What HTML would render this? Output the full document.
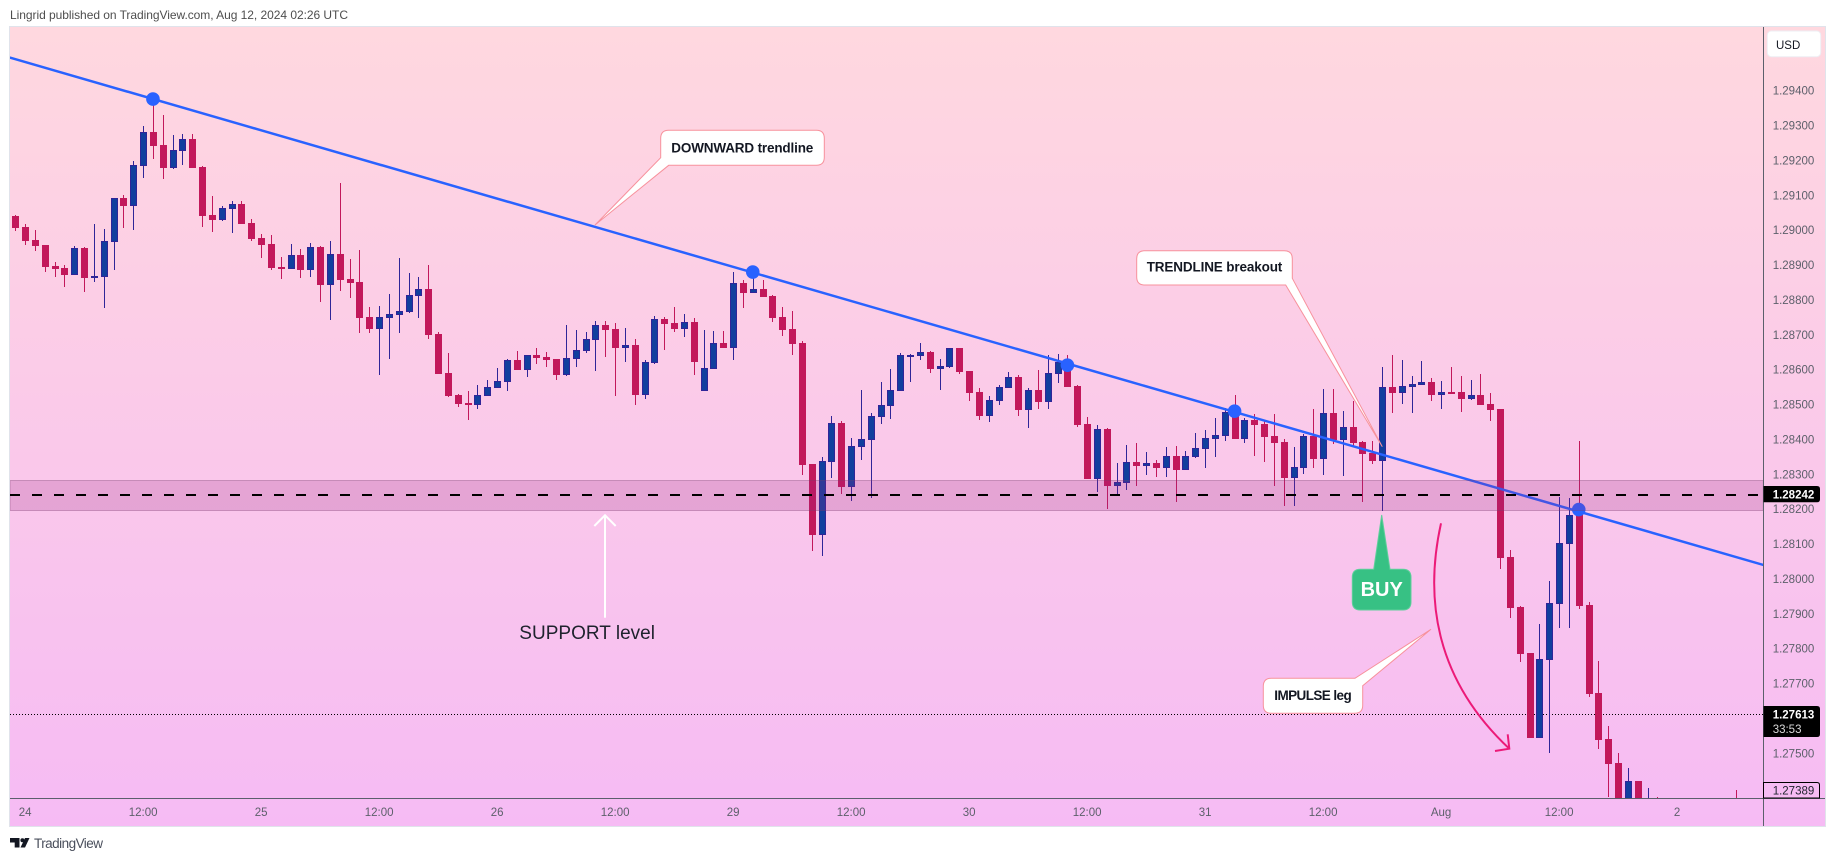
<!DOCTYPE html>
<html lang="en">
<head>
<meta charset="utf-8">
<title>Lingrid chart on TradingView</title>
<style>
html,body{margin:0;padding:0;background:#fff;width:1835px;height:861px;overflow:hidden}
svg{display:block;font-family:"Liberation Sans",sans-serif}
</style>
</head>
<body>
<svg id="chart" xmlns="http://www.w3.org/2000/svg" width="1835" height="861" viewBox="0 0 1835 861">
  <defs>
    <linearGradient id="bg" gradientUnits="userSpaceOnUse" x1="0" y1="27" x2="0" y2="826">
      <stop offset="0" stop-color="#ffd8df"/>
      <stop offset="1" stop-color="#f6bbf4"/>
    </linearGradient>
    <clipPath id="pane"><rect x="10" y="27" width="1753.3" height="771.3"/></clipPath>
  </defs>

  <text x="10" y="19" font-size="12" fill="#4e4e4e" textLength="338">Lingrid published on TradingView.com, Aug 12, 2024 02:26 UTC</text>

  <rect x="9.5" y="26.5" width="1816" height="800" fill="url(#bg)" stroke="#e0e3eb" stroke-width="1"/>

  <g id="plot" clip-path="url(#pane)"></g>

  <g id="notes">
    <g>
      <path d="M668.7 130.3H816.3Q824.3 130.3 824.3 138.3V157.3Q824.3 165.3 816.3 165.3H668.7L595 225L660.7 157.7V138.3Q660.7 130.3 668.7 130.3Z" fill="#fff" stroke="#f7919c" stroke-width="1"/>
      <text x="671.3" y="152.5" font-size="13.5" font-weight="700" fill="#131722" textLength="142">DOWNWARD trendline</text>
    </g>
    <g>
      <path d="M1144.7 250.7H1284.3Q1292.3 250.7 1292.3 258.7V278.3L1382.3 446.7L1285.7 285H1144.7Q1136.7 285 1136.7 277V258.7Q1136.7 250.7 1144.7 250.7Z" fill="#fff" stroke="#f7919c" stroke-width="1"/>
      <text x="1146.7" y="271.5" font-size="13.5" font-weight="700" fill="#131722" textLength="135.6">TRENDLINE breakout</text>
    </g>
    <g>
      <path d="M1271.3 678.3H1355L1431 629.3L1362.7 685.7V705.3Q1362.7 713.3 1354.7 713.3H1271.3Q1263.3 713.3 1263.3 705.3V686.3Q1263.3 678.3 1271.3 678.3Z" fill="#fff" stroke="#f7919c" stroke-width="1"/>
      <text x="1274.3" y="700" font-size="13.5" font-weight="700" fill="#131722" textLength="77.4">IMPULSE leg</text>
    </g>
    <g>
      <path d="M1360.3 569.3H1373.7L1381.7 515L1390 569.3H1403Q1411 569.3 1411 577.3V602Q1411 610 1403 610H1360.3Q1352.3 610 1352.3 602V577.3Q1352.3 569.3 1360.3 569.3Z" fill="#37c184" stroke="#5fcf9c" stroke-width="1"/>
      <text x="1381.7" y="596" font-size="20" font-weight="700" fill="#fff" text-anchor="middle">BUY</text>
    </g>
    <g fill="none" stroke="#fff" stroke-width="2">
      <path d="M605 617.7V516"/>
      <path d="M594.3 526L605 515.3L615.7 526"/>
    </g>
    <text x="519.3" y="639" font-size="19" fill="#1e222d" textLength="135.7">SUPPORT level</text>
    <g fill="none" stroke="#ec1a78" stroke-width="2">
      <path d="M1441 523.3C1424 600 1436 680 1509.3 748.7"/>
      <path d="M1495 751L1509.3 748.7L1507.7 734.3"/>
    </g>
  </g>

  <g id="axes">
    <rect x="1763" y="27" width="1" height="799" fill="#5b5f6b"/>
    <rect x="10" y="798" width="1815" height="1" fill="#5b5f6b"/>
    <g id="yTicks" font-size="11.5" fill="#5d606b"></g>
    <g id="xTicks" font-size="11.5" fill="#5d606b"></g>
  </g>

  <g>
    <rect x="1767.3" y="31" width="53.4" height="25.7" rx="4" fill="#fff" stroke="#eeeef3" stroke-width="1"/>
    <text x="1776" y="49" font-size="11.5" fill="#131722">USD</text>
  </g>

  <g>
    <path d="M1763.5 486H1817Q1820 486 1820 489V499.3Q1820 502.3 1817 502.3H1763.5Z" fill="#000"/>
    <text x="1772.7" y="498.3" font-size="11.5" font-weight="700" fill="#fff">1.28242</text>
  </g>
  <g>
    <path d="M1763.5 706H1817Q1820 706 1820 709V734Q1820 737 1817 737H1763.5Z" fill="#000"/>
    <text x="1772.7" y="718.3" font-size="11.5" font-weight="700" fill="#fff">1.27613</text>
    <text x="1772.7" y="733" font-size="11.5" fill="#d8d8d8">33:53</text>
  </g>
  <g>
    <path d="M1763.5 782.5H1817Q1819.5 782.5 1819.5 785V798H1763.5Z" fill="none" stroke="#000" stroke-width="1"/>
    <text x="1772.7" y="794.5" font-size="11.5" fill="#1e222d">1.27389</text>
  </g>

  <g>
    <path d="M10 838H19.5V847.5H14.7V842.5H10Z" fill="#131722"/>
    <circle cx="22.4" cy="840.2" r="2" fill="#131722"/>
    <path d="M25 838H29.5L25 847.5H20.5Z" fill="#131722"/>
    <text x="34" y="847.8" font-size="13.5" fill="#4a4f5c" textLength="69">TradingView</text>
  </g>
</svg>

<script>
// ---- chart data (prices) ----
const opens = [
1.29040,1.29009,1.28972,1.28957,1.28898,1.28891,1.28871,1.28949,1.28866,1.28866,
1.28966,1.29092,1.29069,1.29184,1.29281,1.29244,1.29178,1.29227,1.29261,1.29181,
1.29043,1.29029,1.29061,1.29075,1.29020,1.28977,1.28960,1.28894,1.28888,1.28929,
1.28886,1.28952,1.28843,1.28931,1.28860,1.28851,1.28751,1.28716,1.28748,1.28757,
1.28765,1.28811,1.28831,1.28702,1.28590,1.28527,1.28504,1.28499,1.28524,1.28547,
1.28565,1.28628,1.28599,1.28642,1.28636,1.28631,1.28585,1.28631,1.28653,1.28685,
1.28728,1.28717,1.28662,1.28671,1.28527,1.28619,1.28745,1.28734,1.28717,1.28737,
1.28539,1.28602,1.28676,1.28662,1.28848,1.28820,1.28831,1.28811,1.28751,1.28717,
1.28676,1.28329,1.28126,1.28335,1.28447,1.28263,1.28378,1.28398,1.28464,1.28496,
1.28539,1.28640,1.28639,1.28651,1.28602,1.28608,1.28662,1.28596,1.28536,1.28467,
1.28510,1.28547,1.28579,1.28484,1.28542,1.28507,1.28587,1.28613,1.28553,1.28444,
1.28286,1.28430,1.28266,1.28275,1.28335,1.28324,1.28332,1.28318,1.28352,1.28312,
1.28349,1.28372,1.28401,1.28410,1.28470,1.28401,1.28456,1.28444,1.28410,1.28392,
1.28289,1.28318,1.28410,1.28344,1.28476,1.28398,1.28435,1.28392,1.28361,1.28338,
1.28550,1.28533,1.28550,1.28556,1.28565,1.28527,1.28536,1.28536,1.28516,1.28527,
1.28501,1.28487,1.28063,1.27919,1.27787,1.27544,1.27767,1.27928,1.28100,1.28212,
1.27925,1.27673,1.27541,1.27472,1.27340,1.27420,1.27330,1.27355,1.27340,1.27350,
1.27335,1.27345,1.27335,1.27345,1.27340,1.27360,1.27345,1.27355,1.27345];
const highs = [
1.29043,1.29018,1.29000,1.28957,1.28909,1.28900,1.28954,1.28952,1.29018,1.29003,
1.29092,1.29101,1.29198,1.29299,1.29373,1.29330,1.29273,1.29276,1.29276,1.29184,
1.29098,1.29069,1.29084,1.29084,1.29032,1.28989,1.28986,1.28923,1.28960,1.28946,
1.28963,1.28954,1.28969,1.29135,1.28917,1.28943,1.28779,1.28782,1.28817,1.28920,
1.28877,1.28866,1.28900,1.28708,1.28648,1.28530,1.28539,1.28556,1.28570,1.28605,
1.28631,1.28653,1.28642,1.28662,1.28651,1.28631,1.28728,1.28714,1.28708,1.28740,
1.28740,1.28734,1.28719,1.28688,1.28628,1.28754,1.28751,1.28780,1.28760,1.28748,
1.28714,1.28711,1.28711,1.28880,1.28857,1.28880,1.28857,1.28814,1.28780,1.28768,
1.28682,1.28329,1.28349,1.28467,1.28453,1.28404,1.28542,1.28476,1.28564,1.28602,
1.28648,1.28644,1.28676,1.28653,1.28630,1.28662,1.28662,1.28596,1.28547,1.28524,
1.28556,1.28593,1.28585,1.28547,1.28599,1.28642,1.28645,1.28642,1.28556,1.28464,
1.28441,1.28433,1.28332,1.28384,1.28390,1.28364,1.28341,1.28378,1.28381,1.28367,
1.28418,1.28427,1.28461,1.28490,1.28527,1.28461,1.28473,1.28453,1.28473,1.28401,
1.28378,1.28415,1.28487,1.28544,1.28544,1.28481,1.28510,1.28395,1.28395,1.28608,
1.28642,1.28628,1.28582,1.28625,1.28576,1.28567,1.28608,1.28582,1.28570,1.28588,
1.28533,1.28487,1.28083,1.27922,1.27787,1.27871,1.27994,1.28235,1.28232,1.28395,
1.27934,1.27764,1.27578,1.27500,1.27458,1.27420,1.27400,1.27374,1.27360,1.27360,
1.27355,1.27355,1.27350,1.27360,1.27360,1.27394,1.27365,1.27365,1.27389];
const lows = [
1.28998,1.28958,1.28941,1.28881,1.28866,1.28838,1.28871,1.28823,1.28851,1.28778,
1.28886,1.29006,1.29000,1.29150,1.29204,1.29147,1.29175,1.29187,1.29178,1.29009,
1.28995,1.29026,1.28992,1.29018,1.28969,1.28920,1.28886,1.28860,1.28888,1.28863,
1.28866,1.28794,1.28742,1.28825,1.28805,1.28705,1.28705,1.28584,1.28630,1.28705,
1.28762,1.28748,1.28688,1.28587,1.28521,1.28493,1.28456,1.28487,1.28524,1.28547,
1.28539,1.28599,1.28579,1.28616,1.28608,1.28570,1.28582,1.28608,1.28648,1.28596,
1.28636,1.28524,1.28622,1.28499,1.28516,1.28616,1.28656,1.28708,1.28694,1.28585,
1.28539,1.28602,1.28662,1.28628,1.28777,1.28820,1.28808,1.28737,1.28696,1.28642,
1.28298,1.28080,1.28065,1.28289,1.28243,1.28223,1.28341,1.28232,1.28444,1.28458,
1.28539,1.28564,1.28628,1.28590,1.28542,1.28605,1.28587,1.28510,1.28456,1.28450,
1.28499,1.28547,1.28467,1.28433,1.28487,1.28487,1.28562,1.28550,1.28435,1.28286,
1.28249,1.28200,1.28238,1.28255,1.28266,1.28298,1.28292,1.28292,1.28220,1.28312,
1.28347,1.28318,1.28349,1.28395,1.28401,1.28390,1.28352,1.28335,1.28266,1.28209,
1.28209,1.28301,1.28318,1.28298,1.28387,1.28295,1.28381,1.28220,1.28329,1.28195,
1.28476,1.28501,1.28476,1.28556,1.28510,1.28487,1.28533,1.28479,1.28513,1.28499,
1.28453,1.28028,1.27888,1.27762,1.27544,1.27544,1.27500,1.27859,1.27859,1.27914,
1.27661,1.27512,1.27374,1.27340,1.27330,1.27330,1.27320,1.27320,1.27325,1.27330,
1.27325,1.27330,1.27325,1.27335,1.27330,1.27330,1.27335,1.27340,1.27335];
const closes = [
1.29006,1.28969,1.28954,1.28894,1.28888,1.28871,1.28949,1.28863,1.28868,1.28969,
1.29092,1.29069,1.29187,1.29281,1.29241,1.29178,1.29230,1.29261,1.29178,1.29040,
1.29029,1.29063,1.29075,1.29018,1.28975,1.28957,1.28891,1.28888,1.28929,1.28886,
1.28952,1.28843,1.28931,1.28857,1.28848,1.28748,1.28716,1.28751,1.28759,1.28768,
1.28814,1.28831,1.28699,1.28587,1.28524,1.28501,1.28499,1.28527,1.28550,1.28567,
1.28628,1.28599,1.28642,1.28633,1.28628,1.28585,1.28633,1.28656,1.28688,1.28728,
1.28714,1.28662,1.28671,1.28527,1.28622,1.28745,1.28731,1.28717,1.28737,1.28622,
1.28605,1.28676,1.28662,1.28848,1.28820,1.28831,1.28808,1.28748,1.28714,1.28674,
1.28326,1.28126,1.28338,1.28447,1.28263,1.28381,1.28401,1.28467,1.28499,1.28542,
1.28642,1.28642,1.28651,1.28602,1.28610,1.28662,1.28593,1.28533,1.28467,1.28513,
1.28550,1.28579,1.28484,1.28542,1.28507,1.28590,1.28622,1.28550,1.28441,1.28286,
1.28430,1.28266,1.28278,1.28335,1.28324,1.28332,1.28318,1.28352,1.28312,1.28352,
1.28375,1.28404,1.28413,1.28479,1.28401,1.28456,1.28441,1.28407,1.28390,1.28289,
1.28321,1.28410,1.28344,1.28476,1.28398,1.28435,1.28390,1.28358,1.28338,1.28550,
1.28533,1.28553,1.28559,1.28565,1.28527,1.28536,1.28533,1.28516,1.28527,1.28499,
1.28484,1.28060,1.27916,1.27784,1.27544,1.27770,1.27930,1.28103,1.28183,1.27922,
1.27670,1.27538,1.27469,1.27360,1.27420,1.27345,1.27360,1.27340,1.27350,1.27340,
1.27345,1.27335,1.27345,1.27340,1.27350,1.27345,1.27355,1.27345,1.27389];

const priceTicks = [1.294,1.293,1.292,1.291,1.290,1.289,1.288,1.287,1.286,1.285,1.284,1.283,1.282,1.281,1.280,1.279,1.278,1.277,1.275];
const timeLabels = ['24','12:00','25','12:00','26','12:00','29','12:00','30','12:00','31','12:00','Aug','12:00','2'];
const timeLabelBars = [1,13,25,37,49,61,73,85,97,109,121,133,145,157,169];

const trendlineBars = [-0.56,177.78];
const trendlinePrices = [1.29495,1.28040];
const touchBars = [14,75,107,124,159];
const touchPrices = [1.29376,1.28880,1.28613,1.28481,1.28199];
const zoneTop = 1.28284;
const zoneBottom = 1.28199;
const supportPrice = 1.28242;
const currentPrice = 1.27613;

// ---- axis functions ----
function yOf(p){ return 90.7 + (1.294 - p) * 34873; }
function xOf(i){ return 15.3 + 9.833 * i; }

const NS = 'http://www.w3.org/2000/svg';
function make(tag, parent, attrs){
  const n = document.createElementNS(NS, tag);
  for (const k in attrs) n.setAttribute(k, attrs[k]);
  parent.appendChild(n);
  return n;
}
const plot = document.getElementById('plot');

// current price dotted line
const dotted = make('line', plot, {x1:10, x2:1763, y1:Math.round(yOf(currentPrice))+0.5, y2:Math.round(yOf(currentPrice))+0.5, stroke:'#000', 'stroke-width':1, 'stroke-dasharray':'1 2'});



// candles
for (let i = 0; i < opens.length; i++) {
  const up = closes[i] >= opens[i];
  const cx = Math.round(xOf(i));
  const wickTop = Math.round(yOf(highs[i]));
  const wickBottom = Math.round(yOf(lows[i]));
  const bodyTop = Math.round(yOf(Math.max(opens[i], closes[i])));
  const bodyBottom = Math.round(yOf(Math.min(opens[i], closes[i])));
  const edge = up ? '#2f2598' : '#c2185b';
  const fill = up ? '#113f9e' : '#c2185b';
  const wick = make('rect', plot, {x:cx, y:wickTop, width:1, height:Math.max(wickBottom-wickTop,1), fill:edge});
  
  
  const body = make('rect', plot, {x:cx-2.5, y:bodyTop+0.5, width:6, height:Math.max(bodyBottom-bodyTop,2)-1, fill:fill, stroke:edge, 'stroke-width':1});
  
  
}

// trendline and touch points
const trend = make('line', plot, {x1:xOf(trendlineBars[0]), y1:yOf(trendlinePrices[0]), x2:xOf(trendlineBars[1]), y2:yOf(trendlinePrices[1]), stroke:'#2962ff', 'stroke-width':2.5});


for (let i = 0; i < touchBars.length; i++) {
  const dot = make('circle', plot, {cx:xOf(touchBars[i]), cy:yOf(touchPrices[i]), r:6.8, fill:'#2962ff'});
  
  
}

// support zone and level
const zone = make('rect', plot, {x:10, y:Math.round(yOf(zoneTop))+0.5, width:1753.3, height:Math.round(yOf(zoneBottom))-Math.round(yOf(zoneTop)), fill:'rgba(156,39,130,0.22)', stroke:'rgba(120,60,110,0.35)', 'stroke-width':1});


const level = make('line', plot, {x1:10, x2:1763, y1:Math.round(yOf(supportPrice)), y2:Math.round(yOf(supportPrice)), stroke:'#000', 'stroke-width':2, 'stroke-dasharray':'10 12'});



// axis labels
const yTicks = document.getElementById('yTicks');
for (const t of priceTicks) {
  const label = make('text', yTicks, {x:1772.7, y:yOf(t)+4});
  label.textContent = t.toFixed(5);
  
  
}
const xTicks = document.getElementById('xTicks');
for (let i = 0; i < timeLabels.length; i++) {
  const label = make('text', xTicks, {x:xOf(timeLabelBars[i]), y:816, 'text-anchor':'middle'});
  label.textContent = timeLabels[i];
  
  
}
</script>
</body>
</html>
